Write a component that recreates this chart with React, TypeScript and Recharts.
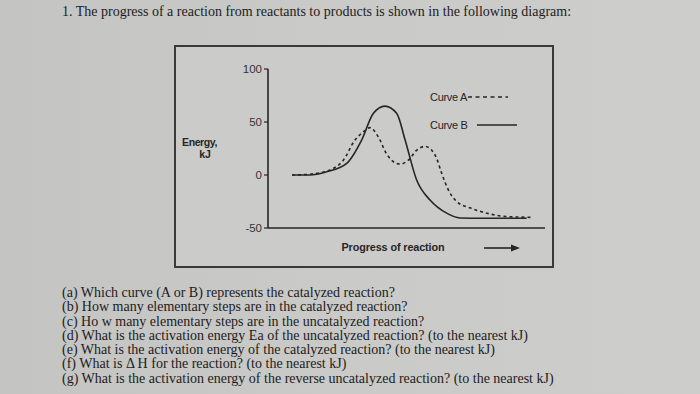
import React from 'react';
import { LineChart, Line, XAxis, YAxis, Legend } from 'recharts';

const progressA = [8.7, 14, 17.6, 22.4, 27.2, 31.4, 34.4, 36.8, 39.8, 42.8, 45.8, 47.7, 50.7, 53.7, 56.7, 59.1, 60.9, 62.7, 65.1, 68.1, 72.9, 79, 85, 95.8];
const energyA = [0, 0.5, 1.6, 4.7, 14, 33, 40.6, 44.7, 36, 20, 11.6, 10.3, 14, 23.4, 27, 23.4, 15.6, 1.6, -14, -25, -31, -36, -39, -40];

const progressB = [8.7, 15, 21.2, 28.4, 33.8, 38, 42.2, 46.5, 49.5, 53.7, 58.5, 64.5, 69.3, 78, 93.4];
const energyB = [0, 0, 3, 11, 33, 58, 65, 58, 33, -5, -23.6, -36, -40.5, -40.8, -40.8];

const seriesNames = ['Curve A', 'Curve B'];
const yTicks = [100, 50, 0, -50];
const xDomain = [0, 100];
const yDomain = [-50, 100];

const title = '1. The progress of a reaction from reactants to products is shown in the following diagram:';
const questions = [
  '(a) Which curve (A or B) represents the catalyzed reaction?',
  '(b) How many elementary steps are in the catalyzed reaction?',
  '(c) Ho w many elementary steps are in the uncatalyzed reaction?',
  '(d) What is the activation energy Ea of the uncatalyzed reaction? (to the nearest kJ)',
  '(e) What is the activation energy of the catalyzed reaction? (to the nearest kJ)',
  '(f) What is \u0394 H for the reaction? (to the nearest kJ)',
  '(g) What is the activation energy of the reverse uncatalyzed reaction? (to the nearest kJ)',
];
const yLabelLines = ['Energy,', 'kJ'];
const xLabel = 'Progress of reaction';

const dataA = progressA.map((x, i) => ({ x, e: energyA[i] }));
const dataB = progressB.map((x, i) => ({ x, e: energyB[i] }));

const INK = '#262626';
const SANS = '"Liberation Sans", Arial, sans-serif';
const SERIF = '"Liberation Serif", "Times New Roman", serif';

const YLabel = (props: any) => {
  const vb = props.viewBox || { x: 0, y: 0 };
  return (
    <g>
      <text x={vb.x + 25.5} y={vb.y + 77} textAnchor="middle" fontFamily={SANS} fontSize={10.5} fontWeight={700} fill={INK} letterSpacing={-0.4}>
        {yLabelLines[0]}
      </text>
      <text x={vb.x + 31} y={vb.y + 89} textAnchor="middle" fontFamily={SANS} fontSize={10.5} fontWeight={700} fill={INK}>
        {yLabelLines[1]}
      </text>
    </g>
  );
};

const XLabel = (props: any) => {
  const vb = props.viewBox || { x: 0, y: 0 };
  const ax = vb.x + 216;
  const ay = vb.y + 20;
  return (
    <g>
      <text x={vb.x + 125} y={vb.y + 23} textAnchor="middle" fontFamily={SANS} fontSize={10.8} fontWeight={700} fill={INK} letterSpacing={-0.1}>
        {xLabel}
      </text>
      <line x1={ax} y1={ay} x2={ax + 28} y2={ay} stroke={INK} strokeWidth={1.6} />
      <polygon points={`${ax + 36},${ay} ${ax + 27},${ay - 3.5} ${ax + 27},${ay + 3.5}`} fill={INK} />
    </g>
  );
};

const LegendContent = (props: any) => {
  const payload = props.payload || [];
  return (
    <div style={{ fontFamily: SANS, fontSize: 11, color: INK }}>
      {payload.map((p: any, i: number) => {
        const dashed = i === 0;
        return (
          <div key={i} style={{ display: 'flex', alignItems: 'center', height: 14, marginBottom: 14 }}>
            <span style={{ letterSpacing: -0.3 }}>{seriesNames[i]}</span>
            <svg width={dashed ? 40 : 42} height={4} style={{ marginLeft: dashed ? 1 : 9 }}>
              <line x1={0} y1={2} x2={40} y2={2} stroke={INK} strokeWidth={1.5} strokeDasharray={dashed ? '4 3.5' : undefined} />
            </svg>
          </div>
        );
      })}
    </div>
  );
};

export default function App() {
  return (
    <div style={{ position: 'absolute', left: 0, top: 0, width: 700, height: 394, overflow: 'hidden', background: 'linear-gradient(90deg, #c4c4c2 0%, #cacac8 50%, #cdcdcb 100%)' }}>
      <div style={{ position: 'absolute', left: 62, top: 4, fontFamily: SERIF, fontSize: 14, color: '#1c1c1c', whiteSpace: 'nowrap' }}>
        {title}
      </div>
      <div style={{ position: 'absolute', left: 174, top: 45, width: 380, height: 223, boxSizing: 'border-box', border: '2px solid #3a3a3a', background: '#cbcbc9' }}>
        <div style={{ position: 'absolute', left: -2, top: -2 }}>
          <LineChart width={380} height={223} margin={{ top: 24, right: 9, bottom: 0, left: 0 }}>
            <XAxis type="number" dataKey="x" domain={xDomain} allowDataOverflow height={40} tick={false} tickLine={false} axisLine={{ stroke: INK, strokeWidth: 1.6 }} label={{ content: XLabel }} />
            <YAxis type="number" domain={yDomain} ticks={yTicks} width={94} interval={0} tickSize={4} tickLine={{ stroke: INK, strokeWidth: 1.2 }} axisLine={{ stroke: INK, strokeWidth: 1.6 }} tick={{ fill: '#333', fontSize: 11.5, fontFamily: SANS }} label={{ content: YLabel }} />
            <Legend layout="vertical" align="center" verticalAlign="middle" wrapperStyle={{ top: 45, left: 256, width: 110 }} content={LegendContent} />
            <Line data={dataA} dataKey="e" name={seriesNames[0]} type="monotone" stroke={INK} strokeWidth={1.6} strokeDasharray="3 3" dot={false} isAnimationActive={false} />
            <Line data={dataB} dataKey="e" name={seriesNames[1]} type="monotone" stroke={INK} strokeWidth={1.6} dot={false} isAnimationActive={false} />
          </LineChart>
        </div>
      </div>
      <div style={{ position: 'absolute', left: 62, top: 286, fontFamily: SERIF, fontSize: 14, lineHeight: '14.3px', color: '#1c1c1c', whiteSpace: 'nowrap' }}>
        {questions.map((q, i) => (
          <div key={i}>{q}</div>
        ))}
      </div>
    </div>
  );
}
